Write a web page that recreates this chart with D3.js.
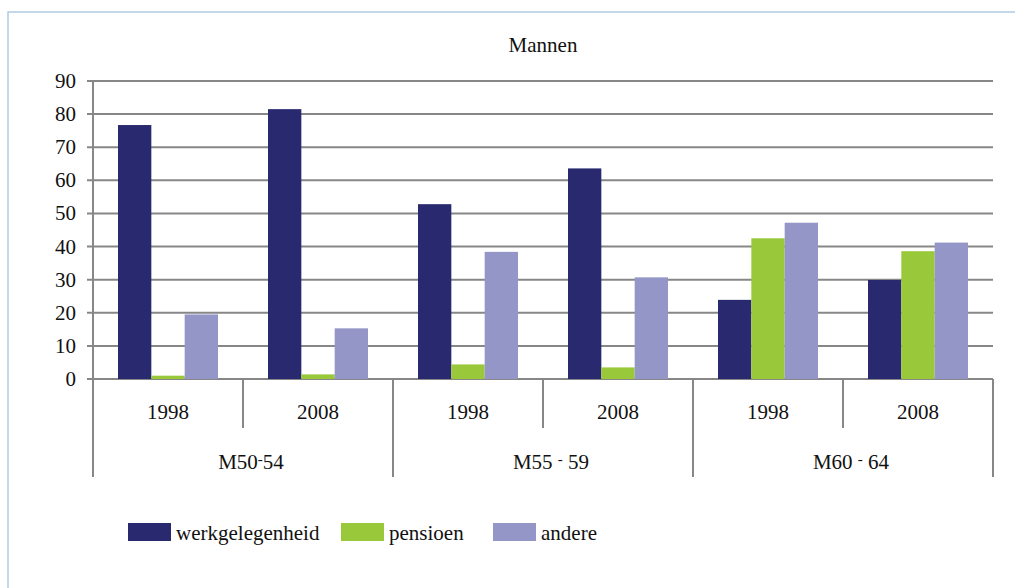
<html>
<head>
    <script src="https://d3js.org/d3.v7.min.js"></script>
    <style>
        body { margin: 0; background: white; }
        svg text { font-family: "Liberation Serif", "Times New Roman", serif; fill: #111; }
    </style>
</head>
<body>
<div id="vis"></div>
<script>

    // data
    var groups = ["M50", "M55", "M60"];
    var groupEnds = ["54", "59", "64"];
    var years = ["1998", "2008"];
    var seriesNames = ["werkgelegenheid", "pensioen", "andere"];
    var werk = [76.7, 81.5, 52.8, 63.6, 23.9, 29.9];
    var pensioen = [1.0, 1.4, 4.4, 3.5, 42.5, 38.6];
    var andere = [19.5, 15.3, 38.4, 30.7, 47.2, 41.2];
    var yTicks = [0, 10, 20, 30, 40, 50, 60, 70, 80, 90];
    var colors = ["#28296f", "#9ac83b", "#9596c8"];

    var width = 1015, height = 588;

    var svg = d3.select("#vis")
        .append("svg")
        .attr("width", width)
        .attr("height", height)
        .attr("font-family", "Liberation Serif, serif");

    // outer frame
    svg.append("rect")
        .attr("x", 8).attr("y", 12)
        .attr("width", 1040).attr("height", 600)
        .attr("fill", "none")
        .attr("stroke", "#b3cae3")
        .attr("stroke-width", 1.5);

    var cats = [];
    groups.forEach(function (g, gi) {
        years.forEach(function (yr) {
            cats.push({ group: gi, year: yr });
        });
    });
    var values = [werk, pensioen, andere];

    var x = d3.scaleBand()
        .domain(d3.range(cats.length))
        .range([93, 993])
        .padding(0);

    var xInner = d3.scaleBand()
        .domain(seriesNames)
        .range([25, x.bandwidth() - 25]);

    var y = d3.scaleLinear()
        .domain([0, 90])
        .range([379, 81]);

    // gridlines
    svg.append("g")
        .selectAll("line")
        .data(yTicks)
        .enter()
        .append("line")
        .attr("x1", 87)
        .attr("x2", 993)
        .attr("y1", function (d) { return y(d); })
        .attr("y2", function (d) { return y(d); })
        .attr("stroke", "#878787")
        .attr("stroke-width", 2);

    // y tick labels
    svg.append("g")
        .selectAll("text")
        .data(yTicks)
        .enter()
        .append("text")
        .attr("x", 76)
        .attr("y", function (d) { return y(d) + 7; })
        .attr("text-anchor", "end")
        .style("font-size", "21px")
        .text(function (d) { return d; });

    // bars
    seriesNames.forEach(function (s, si) {
        svg.append("g")
            .selectAll("rect")
            .data(values[si])
            .enter()
            .append("rect")
            .attr("x", function (d, i) { return x(i) + xInner(s); })
            .attr("y", function (d) { return y(d); })
            .attr("width", xInner.bandwidth())
            .attr("height", function (d) { return y(0) - y(d); })
            .attr("fill", colors[si]);
    });

    // y axis line
    svg.append("line")
        .attr("x1", 93).attr("x2", 93)
        .attr("y1", y(90)).attr("y2", 477)
        .attr("stroke", "#878787")
        .attr("stroke-width", 2);

    // category separators
    var seps = d3.range(cats.length + 1);
    svg.append("g")
        .selectAll("line")
        .data(seps)
        .enter()
        .append("line")
        .attr("x1", function (d) { return d < cats.length ? x(d) : x.range()[1]; })
        .attr("x2", function (d) { return d < cats.length ? x(d) : x.range()[1]; })
        .attr("y1", y(0))
        .attr("y2", function (d) { return d % 2 === 0 ? 477 : 428; })
        .attr("stroke", "#878787")
        .attr("stroke-width", 2);

    // year labels
    svg.append("g")
        .selectAll("text")
        .data(cats)
        .enter()
        .append("text")
        .attr("x", function (d, i) { return x(i) + x.bandwidth() / 2; })
        .attr("y", 419)
        .attr("text-anchor", "middle")
        .style("font-size", "21px")
        .text(function (d) { return d.year; });

    // group labels
    var gl = svg.append("g")
        .selectAll("text")
        .data(groups)
        .enter()
        .append("text")
        .attr("x", function (d, i) { return x(i * 2 + 1) + 8; })
        .attr("y", 469)
        .attr("text-anchor", "middle")
        .style("font-size", "21px");
    gl.append("tspan").text(function (d, i) { return d + (i === 0 ? "" : "   "); });
    gl.append("tspan").attr("dy", -5).style("font-size", "15px").text("-");
    gl.append("tspan").attr("dy", 5).text(function (d, i) { return (i === 0 ? "" : " ") + groupEnds[i]; });

    // title
    svg.append("text")
        .attr("x", 543)
        .attr("y", 52)
        .attr("text-anchor", "middle")
        .style("font-size", "21px")
        .text("Mannen");

    // legend
    var legendX = [128, 341, 493];
    var legend = svg.append("g")
        .selectAll("g")
        .data(seriesNames)
        .enter()
        .append("g")
        .attr("transform", function (d, i) { return "translate(" + legendX[i] + ",523)"; });
    legend.append("rect")
        .attr("width", 43)
        .attr("height", 18)
        .attr("fill", function (d, i) { return colors[i]; });
    legend.append("text")
        .attr("x", 48)
        .attr("y", 17)
        .style("font-size", "21px")
        .text(function (d) { return d; });

</script>
</body>
</html>
